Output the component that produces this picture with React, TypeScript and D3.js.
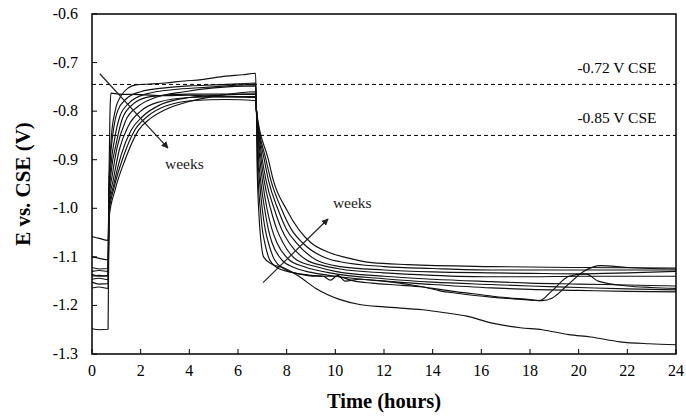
import React from "react";
import * as d3 from "d3";

type P = [number, number];

const xTicks = [0, 2, 4, 6, 8, 10, 12, 14, 16, 18, 20, 22, 24];
const yTicks = [-1.3, -1.2, -1.1, -1.0, -0.9, -0.8, -0.7, -0.6];
const refLines = [
  { value: -0.745, label: "-0.72 V CSE", labelValue: -0.722 },
  { value: -0.85, label: "-0.85 V CSE", labelValue: -0.825 },
];
const arrowRise: P[] = [[0.32, -0.723], [3.12, -0.876]];
const arrowDecay: P[] = [[7.03, -1.153], [9.7, -1.022]];
const weeksLabels: { t: number; e: number }[] = [
  { t: 3.0, e: -0.92 },
  { t: 9.9, e: -1.0 },
];

const week1: P[] = [[0,-1.14],[0.3,-1.138],[0.66,-1.14],[0.70,-0.93],[0.74,-0.80],[0.78,-0.763],[1.1,-0.765],[2,-0.766],[3,-0.768],[4,-0.767],[5,-0.770],[6.0,-0.771],[6.72,-0.772],
  [6.76,-0.80],[6.78,-0.90],[6.80,-0.942],[6.85,-1.003],[6.9,-1.044],[6.95,-1.071],[7.05,-1.10],[7.4,-1.115],[7.85,-1.122],[8.5,-1.14],[9.2,-1.165],[10.2,-1.188],[11,-1.198],[12,-1.203],[13.6,-1.209],[14.5,-1.215],[15.4,-1.222],[16.4,-1.236],[17.6,-1.246],[18.5,-1.25],[19.6,-1.26],[20.5,-1.265],[21.7,-1.275],[22.9,-1.279],[24,-1.281]];
const week2: P[] = [[0,-1.058],[0.3,-1.062],[0.66,-1.066],[0.70,-0.96],[0.74,-0.90],[0.8,-0.85],[0.95,-0.80],[1.2,-0.768],[1.5,-0.752],[1.8,-0.746],[2.5,-0.744],[3,-0.742],[3.8,-0.738],[4.5,-0.735],[5.5,-0.728],[6.2,-0.725],[6.72,-0.722],
  [6.76,-0.80],[6.80,-0.90],[6.83,-0.942],[6.92,-1.003],[7.0,-1.044],[7.1,-1.071],[7.3,-1.106],[7.6,-1.122],[8.2,-1.132],[9,-1.138],[9.5,-1.14],[9.8,-1.148],[10.1,-1.138],[10.4,-1.15],[11,-1.146],[12,-1.15],[13,-1.157],[14,-1.165],[15,-1.172],[16,-1.178],[17,-1.184],[18,-1.188],[18.4,-1.19],[18.9,-1.17],[19.6,-1.14],[20.3,-1.135],[20.8,-1.15],[22,-1.16],[23,-1.163],[24,-1.165]];
const week3: P[] = [[0,-1.10],[0.3,-1.103],[0.66,-1.106],[0.70,-0.95],[0.75,-0.90],[0.85,-0.85],[1.05,-0.80],[1.4,-0.775],[2,-0.76],[3,-0.752],[4,-0.748],[5,-0.746],[6,-0.744],[6.72,-0.742],
  [6.76,-0.80],[6.82,-0.90],[6.88,-0.942],[7.0,-1.003],[7.12,-1.044],[7.25,-1.071],[7.5,-1.106],[7.9,-1.125],[8.5,-1.135],[9.2,-1.14],[10,-1.14],[10.8,-1.15],[11.5,-1.154],[12.5,-1.158],[13.6,-1.162],[14.3,-1.17],[15,-1.175],[16.4,-1.183],[17.5,-1.187],[18.5,-1.19],[18.9,-1.185],[19.5,-1.16],[20.2,-1.13],[20.9,-1.118],[22,-1.122],[23,-1.124],[24,-1.125]];
const week4: P[] = [[0,-1.122],[0.3,-1.125],[0.66,-1.124],[0.70,-0.97],[0.78,-0.91],[0.92,-0.86],[1.15,-0.81],[1.55,-0.782],[2.2,-0.765],[3.5,-0.755],[5,-0.75],[6.72,-0.745],
  [6.76,-0.80],[6.85,-0.90],[6.93,-0.942],[7.1,-1.003],[7.25,-1.044],[7.4,-1.071],[7.8,-1.106],[8.3,-1.122],[9,-1.132],[10,-1.14],[12,-1.15],[14,-1.157],[16.4,-1.164],[18,-1.167],[20,-1.169],[22,-1.171],[24,-1.172]];
const week5: P[] = [[0,-1.13],[0.3,-1.128],[0.66,-1.13],[0.70,-0.975],[0.8,-0.92],[0.98,-0.87],[1.25,-0.815],[1.7,-0.785],[2.4,-0.77],[4,-0.765],[5.5,-0.765],[6.72,-0.765],
  [6.76,-0.80],[6.9,-0.90],[7.0,-0.942],[7.2,-1.003],[7.4,-1.044],[7.6,-1.071],[8.1,-1.106],[8.7,-1.12],[10,-1.135],[12,-1.145],[14,-1.152],[16.4,-1.157],[18,-1.16],[20,-1.163],[22,-1.166],[24,-1.168]];
const week6: P[] = [[0,-1.136],[0.3,-1.14],[0.66,-1.138],[0.70,-0.98],[0.84,-0.93],[1.03,-0.875],[1.38,-0.82],[1.9,-0.79],[2.6,-0.772],[3.8,-0.76],[5,-0.752],[6.72,-0.748],
  [6.76,-0.80],[6.95,-0.90],[7.07,-0.942],[7.35,-1.003],[7.6,-1.044],[7.85,-1.071],[8.4,-1.106],[9.2,-1.12],[10,-1.13],[12,-1.14],[14,-1.146],[16.4,-1.151],[18,-1.154],[20,-1.156],[22,-1.158],[24,-1.16]];
const week7: P[] = [[0,-1.146],[0.3,-1.144],[0.66,-1.147],[0.70,-0.99],[0.88,-0.94],[1.12,-0.88],[1.5,-0.83],[2.0,-0.80],[2.7,-0.782],[4,-0.772],[5.5,-0.77],[6.72,-0.77],
  [6.76,-0.80],[7.0,-0.90],[7.15,-0.942],[7.5,-1.003],[7.8,-1.044],[8.1,-1.071],[8.8,-1.106],[9.5,-1.118],[10.2,-1.125],[12,-1.133],[14,-1.138],[16.4,-1.141],[18,-1.141],[20,-1.14],[22,-1.14],[24,-1.14]];
const week8: P[] = [[0,-1.152],[0.3,-1.156],[0.66,-1.155],[0.70,-1.0],[0.9,-0.95],[1.2,-0.89],[1.6,-0.84],[2.1,-0.81],[2.8,-0.787],[4,-0.772],[5.3,-0.767],[6.72,-0.765],
  [6.76,-0.80],[7.08,-0.90],[7.25,-0.942],[7.65,-1.003],[8.0,-1.044],[8.4,-1.071],[9.2,-1.106],[10.2,-1.12],[12,-1.127],[14,-1.131],[16.4,-1.133],[18,-1.134],[20,-1.135],[22,-1.133],[24,-1.13]];
const week9: P[] = [[0,-1.164],[0.3,-1.162],[0.66,-1.165],[0.70,-1.01],[0.92,-0.955],[1.28,-0.895],[1.75,-0.84],[2.3,-0.81],[3.0,-0.79],[4.2,-0.778],[5.5,-0.776],[6.72,-0.778],
  [6.76,-0.80],[7.15,-0.90],[7.35,-0.942],[7.8,-1.003],[8.2,-1.044],[8.65,-1.071],[9.7,-1.104],[10.2,-1.11],[12,-1.12],[14,-1.124],[16.4,-1.127],[20,-1.127],[24,-1.127]];
const week10: P[] = [[0,-1.248],[0.3,-1.25],[0.66,-1.249],[0.70,-1.02],[0.95,-0.962],[1.36,-0.90],[1.9,-0.84],[2.4,-0.815],[3.0,-0.797],[4.0,-0.78],[5.2,-0.768],[6.72,-0.76],
  [6.76,-0.80],[7.25,-0.90],[7.45,-0.942],[8.0,-1.003],[8.5,-1.044],[9.0,-1.071],[9.8,-1.092],[10.5,-1.102],[11.5,-1.112],[13,-1.116],[16.4,-1.12],[20,-1.122],[24,-1.123]];

const series = [week1, week2, week3, week4, week5, week6, week7, week8, week9, week10];

const W = 686, H = 419;
const M = { left: 92, right: 10, top: 14, bottom: 65 };
const FONT = "'Liberation Serif', 'Times New Roman', serif";

export default function App() {
  const x = d3.scaleLinear().domain([0, 24]).range([M.left, W - M.right]);
  const y = d3.scaleLinear().domain([-1.3, -0.6]).range([H - M.bottom, M.top]);
  const line = d3.line<P>().x(d => x(d[0])).y(d => y(d[1])).curve(d3.curveMonotoneX);
  const x0 = x(0), x1 = x(24), y0 = y(-1.3), y1 = y(-0.6);
  return (
    <svg width={W} height={H} style={{ position: "absolute", left: 0, top: 0, background: "#fff" }} fontFamily={FONT}>
      <defs>
        <marker id="ah" viewBox="0 0 10 10" refX="9" refY="5" markerWidth="7" markerHeight="7" orient="auto" markerUnits="userSpaceOnUse">
          <path d="M0,0 L10,5 L0,10 z" fill="#222" />
        </marker>
      </defs>
      {refLines.map((r, i) => (
        <g key={i}>
          <line x1={x0} x2={x1} y1={y(r.value)} y2={y(r.value)} stroke="#000" strokeWidth={1} strokeDasharray="4,3" />
          <text x={x(23.2)} y={y(r.labelValue)} textAnchor="end" fontSize={15.5} fill="#000">{r.label}</text>
        </g>
      ))}
      <g fill="none" stroke="#111" strokeWidth={1.15}>
        {series.map((s, i) => <path key={i} d={line(s) || ""} />)}
      </g>
      <line x1={x(arrowRise[0][0])} y1={y(arrowRise[0][1])} x2={x(arrowRise[1][0])} y2={y(arrowRise[1][1])} stroke="#222" strokeWidth={1.2} markerEnd="url(#ah)" />
      <line x1={x(arrowDecay[0][0])} y1={y(arrowDecay[0][1])} x2={x(arrowDecay[1][0])} y2={y(arrowDecay[1][1])} stroke="#222" strokeWidth={1.2} markerEnd="url(#ah)" />
      {weeksLabels.map((w, i) => (
        <text key={i} x={x(w.t)} y={y(w.e)} fontSize={15.5} fill="#222">weeks</text>
      ))}
      <rect x={x0} y={y1} width={x1 - x0} height={y0 - y1} fill="none" stroke="#000" strokeWidth={1.5} />
      {xTicks.map(t => (
        <g key={t}>
          <line x1={x(t)} x2={x(t)} y1={y0} y2={y0 - 5} stroke="#000" />
          <text x={x(t)} y={y0 + 22} textAnchor="middle" fontSize={16}>{t}</text>
        </g>
      ))}
      {yTicks.map(v => (
        <g key={v}>
          <line x1={x0} x2={x0 + 5} y1={y(v)} y2={y(v)} stroke="#000" />
          <text x={x0 - 14} y={y(v) + 5} textAnchor="end" fontSize={16}>{v.toFixed(1)}</text>
        </g>
      ))}
      <text x={(x0 + x1) / 2} y={H - 11} textAnchor="middle" fontSize={20.5} fontWeight="bold">Time (hours)</text>
      <text transform={`translate(30,${(y0 + y1) / 2}) rotate(-90)`} textAnchor="middle" fontSize={21} fontWeight="bold">E vs. CSE (V)</text>
    </svg>
  );
}
